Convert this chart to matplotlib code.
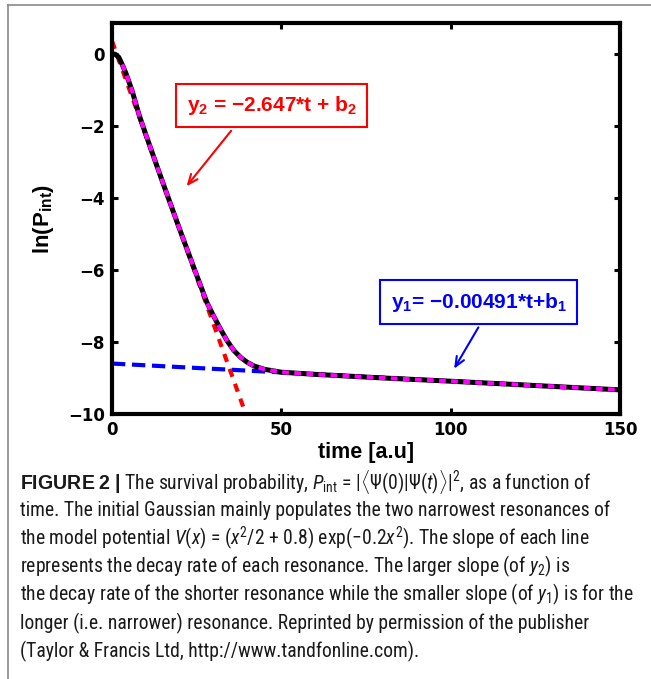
import matplotlib
matplotlib.use("Agg")
import matplotlib.pyplot as plt
from matplotlib import font_manager
from matplotlib.lines import Line2D
import numpy as np

# ---------------- data ----------------
t_curve = [0, 1, 2, 3, 4, 5, 6, 8, 10, 15, 20, 25, 28, 30, 32, 34, 36, 38, 40, 42, 45, 50, 60, 80, 100, 125, 150]
lnP = [0, -0.02, -0.10, -0.30, -0.52, -0.78, -1.05, -1.70, -2.25, -3.58, -4.88, -6.15, -6.90, -7.28,
       -7.64, -7.97, -8.24, -8.43, -8.57, -8.67, -8.76, -8.84, -8.90, -9.00, -9.09, -9.21, -9.33]

t_fit2 = [0, 39.5]
y_fit2 = [0.35, -10.0]
t_fit1 = [0, 150]
y_fit1 = [-8.60, -9.335]

xticks = [0, 50, 100, 150]
yticks = [0, -2, -4, -6, -8, -10]

label2 = r"y$_\mathbf{2}$ = −2.647*t + b$_\mathbf{2}$"
label1 = r"y$_\mathbf{1}$= −0.00491*t+b$_\mathbf{1}$"

names = {f.name for f in font_manager.fontManager.ttflist}
cap_font = 'Liberation Sans'
for cand in ['Liberation Sans Narrow', 'Roboto Condensed', 'Open Sans Condensed', 'Liberation Sans']:
    if cand in names:
        cap_font = cand
        break

plt.rcParams['mathtext.fontset'] = 'custom'
plt.rcParams['mathtext.rm'] = cap_font
plt.rcParams['mathtext.it'] = cap_font + ':italic'
plt.rcParams['mathtext.bf'] = 'Liberation Sans:bold'

W, H = 651, 679
fig = plt.figure(figsize=(W / 100, H / 100), dpi=100)
fig.patch.set_facecolor('white')

# gray frame (top & left)
fig.add_artist(Line2D([8 / W, 1], [1 - 5 / H, 1 - 5 / H], color='#8a8a8a', lw=1.2))
fig.add_artist(Line2D([8 / W, 8 / W], [0, 1 - 5 / H], color='#8a8a8a', lw=1.2))

ax = fig.add_axes([112 / W, 1 - 414 / H, (620 - 112) / W, (414 - 23) / H])
ax.set_xlim(0, 150)
ax.set_ylim(-10, 0.85)

ax.plot(t_fit1, y_fit1, color='#0000ff', lw=3.0, ls=(0, (3.2, 1.6)), zorder=2)
ax.plot(t_fit2, y_fit2, color='#ff0000', lw=3.0, ls=(0, (2.0, 1.8)), zorder=2)
ax.plot(t_curve, lnP, color='black', lw=3.6, solid_capstyle='butt', zorder=3)
tc = np.array(t_curve)
m = tc >= 3
ax.plot(tc[m], np.array(lnP)[m], color='#ff00ff', lw=3.0, ls=(0, (1.6, 1.3)), zorder=4)

for s in ax.spines.values():
    s.set_linewidth(3.0)
ax.set_xticks(xticks)
ax.set_yticks(yticks)
ax.tick_params(direction='in', length=4, width=2.2, top=True, right=True, pad=5)
for lab in ax.get_xticklabels() + ax.get_yticklabels():
    lab.set_fontfamily('DejaVu Sans')
    lab.set_fontweight('bold')
    lab.set_fontsize(12)

ax.set_xlabel('time [a.u]', fontfamily='Liberation Sans', fontweight='bold', fontsize=15.5, labelpad=2)
ax.set_ylabel(r'ln(P$_\mathbf{int}$)', fontfamily='Liberation Sans', fontweight='bold', fontsize=16, labelpad=9)

ax.text(47.2, -1.44, label2, color='red', fontfamily='Liberation Sans', fontweight='bold', fontsize=15,
        ha='center', va='center',
        bbox=dict(boxstyle='square,pad=0.5', fc='white', ec='red', lw=1.5), zorder=6)
ax.annotate('', xy=(21.5, -3.74), xytext=(35.7, -2.08),
            arrowprops=dict(arrowstyle='->,head_length=0.7,head_width=0.3', color='red', lw=1.5), zorder=6)

ax.text(108.3, -6.9, label1, color='#0000ff', fontfamily='Liberation Sans', fontweight='bold', fontsize=15,
        ha='center', va='center',
        bbox=dict(boxstyle='square,pad=0.5', fc='white', ec='#0000ff', lw=1.5), zorder=6)
ax.annotate('', xy=(100.6, -8.81), xytext=(108.6, -7.53),
            arrowprops=dict(arrowstyle='->,head_length=0.7,head_width=0.3', color='#0000ff', lw=1.5), zorder=6)

# ---------------- caption ----------------
cap_lines = [
    r"$\mathbf{FIGURE\ 2\ |}$ The survival probability, $P_{\mathrm{int}}$ = |$\langle\Psi(0)|\Psi(t)\rangle$|$^2$, as a function of",
    "time. The initial Gaussian mainly populates the two narrowest resonances of",
    r"the model potential $V$($x$) = ($x^2$/2 + 0.8) exp(−0.2$x^2$). The slope of each line",
    r"represents the decay rate of each resonance. The larger slope (of $y_2$) is",
    r"the decay rate of the shorter resonance while the smaller slope (of $y_1$) is for the",
    "longer (i.e. narrower) resonance. Reprinted by permission of the publisher",
    "(Taylor & Francis Ltd, http://www.tandfonline.com).",
]
cap_y = [482, 510, 538, 566, 594, 623, 651]

texts = []
for line, y in zip(cap_lines, cap_y):
    texts.append(fig.text(20 / W, 1 - y / H, line, fontfamily=cap_font, fontsize=14, ha='left', va='center',
                          color='#1a1a1a'))
fig.canvas.draw()
r = fig.canvas.get_renderer()
wmax = max(texts[1].get_window_extent(r).width, texts[4].get_window_extent(r).width)
fs = 14 * 618 / wmax
for tx in texts:
    tx.set_fontsize(fs)

fig.savefig('out.png', dpi=100)
